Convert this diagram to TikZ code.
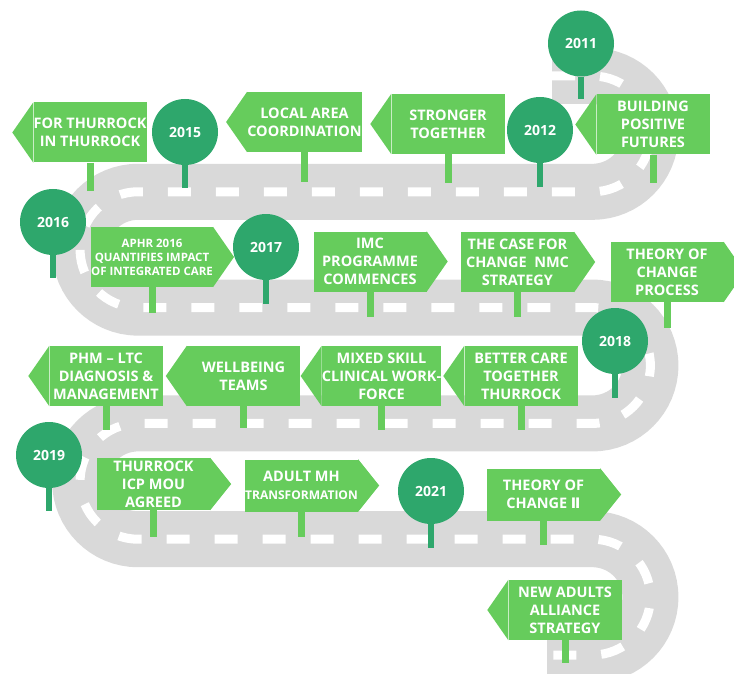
\documentclass[tikz,border=0pt]{standalone}
\usepackage{fontspec}
\setmainfont{Open Sans}
\newfontfamily\numeralfont{DejaVu Sans}
\usetikzlibrary{positioning}

\definecolor{roadgrey}{HTML}{D9D9D9}
\definecolor{yeargreen}{HTML}{2EA76C}
\definecolor{signgreen}{HTML}{66CC5C}

\newcommand{\roadPath}{(552,76) -- (592.5,76) arc (-90:90:57.9) -- (138,191.8) arc (-90:-270:57.9)
	-- (592.5,307.6) arc (-90:90:57.9) -- (138,423.4) arc (-90:-270:57.9)
	-- (592.5,539.2) arc (-90:90:57.9) -- (547,655)}

\begin{document}
\begin{tikzpicture}[x = 1pt, y = -1pt]
	\tikzstyle{roadStyle} = [draw = roadgrey, line width = 56pt]
	\tikzstyle{laneStyle} = [draw = white, line width = 9pt, dash pattern = on 23pt off 25pt]
	\tikzstyle{yearStyle} = [shape = circle, fill = yeargreen, text = white, minimum size = 66pt, inner sep = 0pt, font = \bfseries\fontsize{14}{16}\selectfont]
	\tikzstyle{signStyle} = [shape = rectangle, fill = signgreen, text = white, minimum width = 113pt, minimum height = 60pt, inner sep = 0pt, align = center, font = \bfseries\fontsize{14.5}{18}\selectfont]
	\tikzstyle{lowSignStyle} = [signStyle, minimum height = 52pt]
	\tikzstyle{yearPole} = [draw = yeargreen, line width = 6.5pt]
	\tikzstyle{signPole} = [draw = signgreen, line width = 7pt]
	\useasboundingbox (0,0) rectangle (734,674);
	% road
	\path[roadStyle] \roadPath;
	\path[laneStyle] \roadPath;
	% years
	\node[yearStyle] (y2011) at (581,43.5) {2011};
	\node[yearStyle] (y2012) at (540,130) {2012};
	\node[yearStyle] (y2015) at (185,132) {2015};
	\node[yearStyle] (y2016) at (53,222) {2016};
	\node[yearStyle] (y2017) at (266,247) {2017};
	\node[yearStyle] (y2018) at (615,341) {2018};
	\node[yearStyle] (y2019) at (49,455) {2019};
	\node[yearStyle] (y2021) at (431,491) {2021};
	% signs
	\node[signStyle] (forThurrock) at (90,132.5) {FOR THURROCK\\IN THURROCK};
	\node[signStyle] (localArea) at (304.5,122) {LOCAL AREA\\COORDINATION};
	\node[signStyle] (stronger) at (448,124) {STRONGER\\TOGETHER};
	\node[signStyle] (building) at (653,124.5) {BUILDING\\POSITIVE\\FUTURES};
	\node[signStyle, font = \bfseries\fontsize{11.5}{14}\selectfont] (aphr) at (152,257) {APHR 2016\\QUANTIFIES IMPACT\\OF INTEGRATED CARE};
	\node[signStyle] (imc) at (370,261.5) {IMC\\PROGRAMME\\COMMENCES};
	\node[signStyle] (caseForChange) at (517.5,262) {THE CASE FOR\\CHANGE\ \ NMC\\STRATEGY};
	\node[signStyle] (theoryProcess) at (667,272) {THEORY OF\\CHANGE\\PROCESS};
	\node[signStyle] (phmLtc) at (106,376) {PHM – LTC\\DIAGNOSIS \&\\MANAGEMENT};
	\node[signStyle] (wellbeing) at (243.5,376) {WELLBEING\\TEAMS};
	\node[signStyle] (mixedSkill) at (381.5,376) {MIXED SKILL\\CLINICAL WORK-\\FORCE};
	\node[signStyle] (betterCare) at (521,376) {BETTER CARE\\TOGETHER\\THURROCK};
	\node[lowSignStyle] (icpMou) at (153.5,484) {THURROCK\\ICP MOU\\AGREED};
	\node[lowSignStyle] (adultMh) at (301.5,485.5) {ADULT MH\\{\fontsize{12}{14}\selectfont TRANSFORMATION}};
	\node[lowSignStyle] (theoryTwo) at (543.5,494.5) {THEORY OF\\CHANGE {\numeralfont Ⅱ}};
	\node[signStyle] (newAdults) at (565,610) {NEW ADULTS\\ALLIANCE\\STRATEGY};
	% sign points
	\foreach \s in {forThurrock, localArea, stronger, building, phmLtc, wellbeing, mixedSkill, betterCare, newAdults}
		\fill[signgreen] (\s.north west) -- ([xshift = -21pt]\s.west) -- (\s.south west) -- cycle;
	\foreach \s in {aphr, imc, caseForChange, theoryProcess, icpMou, adultMh, theoryTwo}
		\fill[signgreen] (\s.north east) -- ([xshift = 21pt]\s.east) -- (\s.south east) -- cycle;
	% pole feet
	\coordinate (y2011Foot) at (581,99);
	\coordinate (y2012Foot) at (540,187);
	\coordinate (y2015Foot) at (185,188);
	\coordinate (y2016Foot) at (53,278);
	\coordinate (y2017Foot) at (266,304);
	\coordinate (y2018Foot) at (615,398);
	\coordinate (y2019Foot) at (49,511);
	\coordinate (y2021Foot) at (431,548);
	\coordinate (forThurrockFoot) at (90,191);
	\coordinate (localAreaFoot) at (304.5,182);
	\coordinate (strongerFoot) at (448,183);
	\coordinate (buildingFoot) at (653,183);
	\coordinate (aphrFoot) at (152,313);
	\coordinate (imcFoot) at (370,317);
	\coordinate (caseForChangeFoot) at (517.5,317);
	\coordinate (theoryProcessFoot) at (667,328);
	\coordinate (phmLtcFoot) at (106,430);
	\coordinate (wellbeingFoot) at (243.5,428);
	\coordinate (mixedSkillFoot) at (381.5,430);
	\coordinate (betterCareFoot) at (521,430);
	\coordinate (icpMouFoot) at (153.5,537);
	\coordinate (adultMhFoot) at (301.5,537);
	\coordinate (theoryTwoFoot) at (543.5,545);
	\coordinate (newAdultsFoot) at (565,663);
	% poles
	\foreach \y in {2011, 2012, 2015, 2016, 2017, 2018, 2019, 2021}
		\path[yearPole] (y\y.south) -- (y\y Foot);
	\foreach \s in {forThurrock, localArea, stronger, building, aphr, imc, caseForChange, theoryProcess, phmLtc, wellbeing, mixedSkill, betterCare, icpMou, adultMh, theoryTwo, newAdults}
		\path[signPole] (\s.south) -- (\s Foot);
\end{tikzpicture}
\end{document}
